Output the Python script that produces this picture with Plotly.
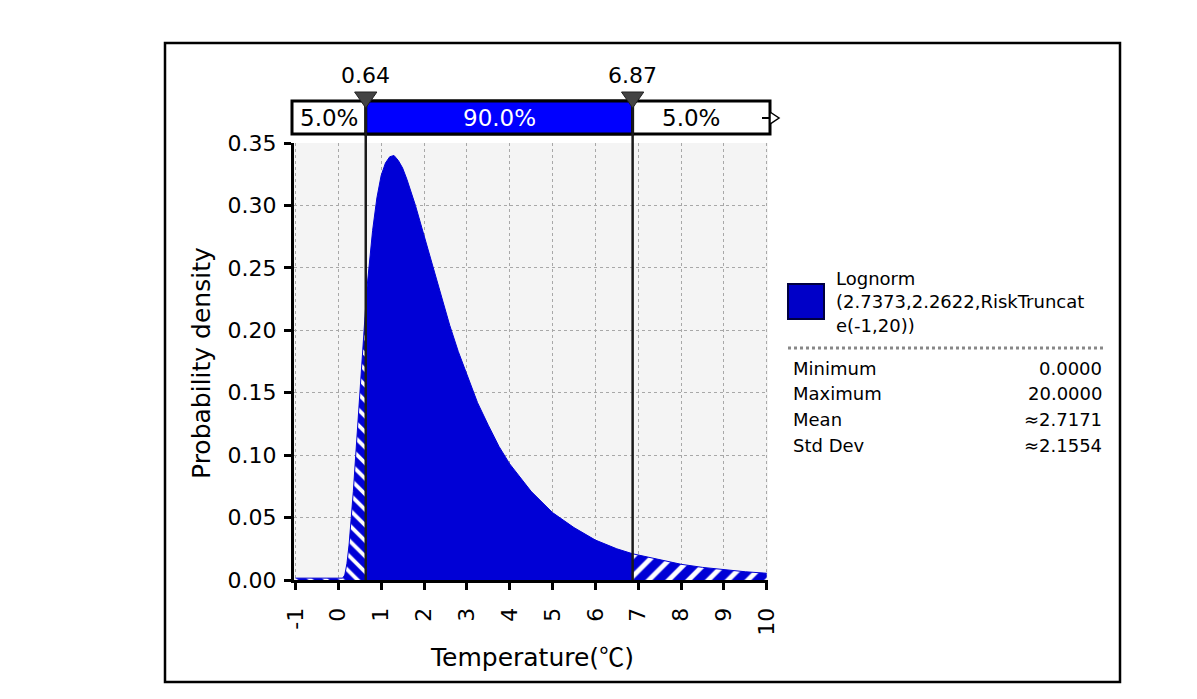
import plotly.graph_objects as go

# density, split at the 5% / 95% marks
left_x = [-1.0, 0.1, 0.15, 0.2, 0.25, 0.3, 0.35, 0.4, 0.45, 0.5, 0.55, 0.6, 0.64]
left_y = [0.0015, 0.0015, 0.004, 0.013, 0.028, 0.048, 0.071, 0.097, 0.124, 0.151, 0.177, 0.202, 0.220]
mid_x = [0.64, 0.7, 0.8, 0.9, 1.0, 1.1, 1.2, 1.3, 1.4, 1.5, 1.6, 1.8, 2.0, 2.2, 2.4, 2.6,
         2.8, 3.0, 3.25, 3.5, 3.75, 4.0, 4.5, 5.0, 5.5, 6.0, 6.5, 6.87]
mid_y = [0.224, 0.245, 0.280, 0.306, 0.324, 0.334, 0.339, 0.340, 0.336, 0.330, 0.321, 0.300,
         0.276, 0.251, 0.227, 0.204, 0.183, 0.164, 0.142, 0.124, 0.107, 0.093, 0.071, 0.054,
         0.042, 0.032, 0.025, 0.021]
right_x = [6.87, 7.0, 7.5, 8.0, 8.5, 9.0, 9.5, 10.0]
right_y = [0.021, 0.020, 0.016, 0.0126, 0.0101, 0.0081, 0.0066, 0.0054]

lo, hi = 0.64, 6.87
pct_labels = ['5.0%', '90.0%', '5.0%']
x_ticks = list(range(-1, 11))
x_ticktext = [str(v) for v in x_ticks]
y_ticks = [0.0, 0.05, 0.10, 0.15, 0.20, 0.25, 0.30, 0.35]

legend_lines = ['Lognorm', '(2.7373,2.2622,RiskTruncat', 'e(-1,20))']
stat_names = ['Minimum', 'Maximum', 'Mean', 'Std Dev']
stat_vals = ['0.0000', '20.0000', '≈2.7171', '≈2.1554']

BLUE = '#0000D6'
FONT = 'DejaVu Sans, Noto Sans CJK SC'


# reference pixel -> paper coords (plot area is 294..768 x 143..580)
def px(p):
    return (p - 294) / 474


def py(p):
    return (580 - p) / 437


fig = go.Figure()
fig.add_trace(go.Scatter(x=left_x, y=left_y, fill='tozeroy', mode='lines',
                         line=dict(color=BLUE, width=1), fillcolor=BLUE,
                         fillpattern=dict(shape='\\', fgcolor='white', bgcolor=BLUE,
                                          fgopacity=1, size=11, solidity=0.35)))
fig.add_trace(go.Scatter(x=mid_x, y=mid_y, fill='tozeroy', mode='lines',
                         line=dict(color=BLUE, width=1), fillcolor=BLUE))
fig.add_trace(go.Scatter(x=right_x, y=right_y, fill='tozeroy', mode='lines',
                         line=dict(color=BLUE, width=1), fillcolor=BLUE,
                         fillpattern=dict(shape='/', fgcolor='white', bgcolor=BLUE,
                                          fgopacity=1, size=14, solidity=0.35)))

shapes = []
# outer frame
shapes.append(dict(type='rect', xref='paper', yref='paper', x0=px(165), x1=px(1120),
                   y0=py(682), y1=py(43), line=dict(color='black', width=2.5)))
# percentile bar
shapes.append(dict(type='rect', xref='paper', yref='paper', x0=px(292), x1=px(770),
                   y0=py(134), y1=py(101), fillcolor='white', line=dict(color='black', width=3)))
shapes.append(dict(type='rect', xref='x', yref='paper', x0=lo, x1=hi,
                   y0=py(134), y1=py(101), fillcolor='#0000FF', line=dict(color='black', width=3)))
for v in (lo, hi):
    shapes.append(dict(type='line', xref='x', yref='paper', x0=v, x1=v, y0=0, y1=py(101),
                       line=dict(color='#1a1a1a', width=2.5)))
    shapes.append(dict(type='path', xref='x', yref='paper',
                       path=f'M {v-0.26},{py(92)} L {v+0.26},{py(92)} L {v},{py(108)} Z',
                       fillcolor='#444444', line=dict(color='#222222', width=1)))
# little arrow at the right end of the bar
shapes.append(dict(type='line', xref='paper', yref='paper', x0=px(762), x1=px(771),
                   y0=py(118), y1=py(118), line=dict(color='black', width=2)))
shapes.append(dict(type='path', xref='paper', yref='paper',
                   path=f'M {px(770)},{py(112)} L {px(779)},{py(118)} L {px(770)},{py(124)} Z',
                   fillcolor='white', line=dict(color='black', width=1.5)))
# legend swatch and separator
shapes.append(dict(type='rect', xref='paper', yref='paper', x0=px(788), x1=px(824),
                   y0=py(319), y1=py(284), fillcolor='#0000C8', line=dict(color='#000040', width=2)))
shapes.append(dict(type='line', xref='paper', yref='paper', x0=px(788), x1=px(1105),
                   y0=py(348), y1=py(348), line=dict(color='#888888', width=3, dash='dot')))


def note(x, y, text, size, xref='paper', xanchor='center', color='black', angle=0):
    return dict(x=x, y=y, xref=xref, yref='paper', text=text, showarrow=False,
                xanchor=xanchor, yanchor='middle', textangle=angle,
                font=dict(size=size, color=color))


ann = []
ann.append(note((-1.08 + lo) / 2, py(118), pct_labels[0], 23, xref='x'))
ann.append(note((lo + hi) / 2, py(118), pct_labels[1], 23, xref='x', color='white'))
ann.append(note(8.23, py(118), pct_labels[2], 23, xref='x'))
for v in (lo, hi):
    ann.append(note(v, py(76), f'{v:.2f}', 22, xref='x'))
for i, t in enumerate(legend_lines):
    ann.append(note(px(834), py(278 + 23.5 * i), t, 18, xanchor='left'))
for i, (n, v) in enumerate(zip(stat_names, stat_vals)):
    yy = py(368 + 25.8 * i)
    ann.append(note(px(791), yy, n, 18, xanchor='left'))
    ann.append(note(px(1104), yy, v, 18, xanchor='right'))
# axis titles
ann.append(note(px(201), py(363), 'Probability density', 25, angle=-90))
ann.append(note(px(532), py(655),
                "Temperature(<span style=\"font-family:'Noto Sans CJK SC'\">℃</span>)", 25))

# page body adds an 8px offset, so margins are shifted back by 8
fig.update_layout(
    width=1197, height=699,
    margin=dict(l=286, r=437, t=135, b=127),
    paper_bgcolor='white', plot_bgcolor='#F4F4F4',
    showlegend=False,
    font=dict(family=FONT, color='black'),
    shapes=shapes, annotations=ann,
)
fig.update_xaxes(range=[-1.035, 10.03], tickvals=x_ticks, ticktext=x_ticktext, tickangle=-90,
                 tickfont=dict(size=22), ticks='outside', ticklen=7, tickwidth=3,
                 tickcolor='black', showline=True, linecolor='black', linewidth=3,
                 ticklabelstandoff=9,
                 showgrid=True, gridcolor='#A8A8A8', griddash='dot', gridwidth=1,
                 zeroline=False)
fig.update_yaxes(range=[0, 0.35], tickvals=y_ticks, tickformat='.2f',
                 tickfont=dict(size=22), ticks='outside', ticklen=7, tickwidth=3,
                 tickcolor='black', showline=True, linecolor='black', linewidth=3,
                 ticklabelstandoff=3,
                 showgrid=True, gridcolor='#A8A8A8', griddash='dot', gridwidth=1,
                 zeroline=False)

fig.write_html('out.html')
